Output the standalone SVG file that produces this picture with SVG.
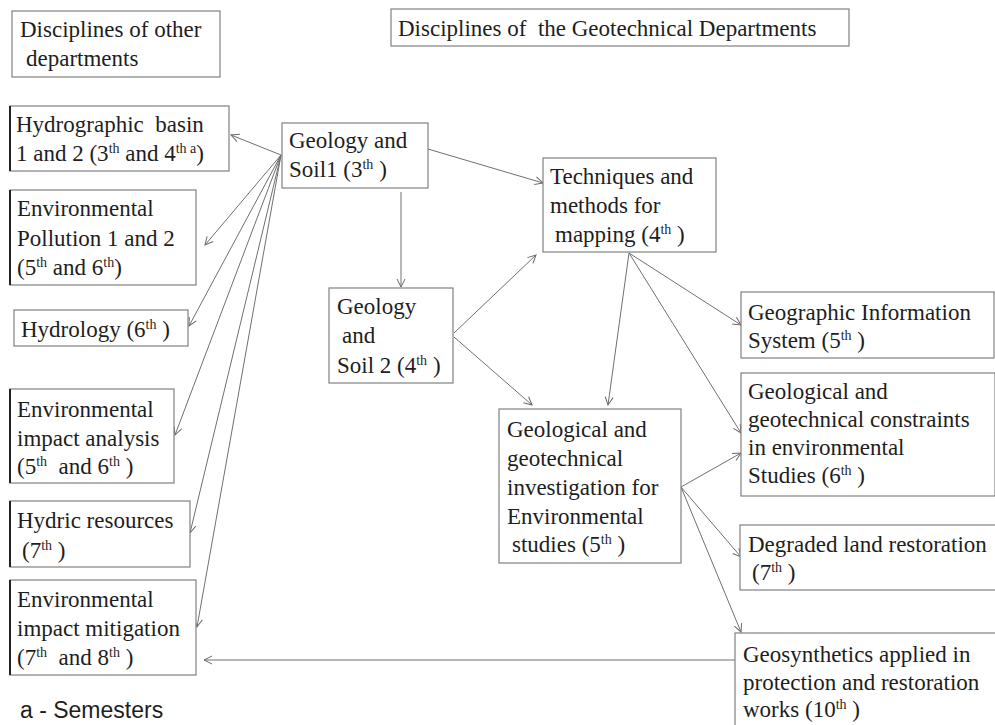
<svg xmlns="http://www.w3.org/2000/svg" width="995" height="725" viewBox="0 0 995 725">
<defs>
<marker id="ah" markerWidth="10" markerHeight="10" refX="9" refY="5" orient="auto" markerUnits="userSpaceOnUse">
<path d="M1,1 L9,5 L1,9" fill="none" stroke="#6a6a6a" stroke-width="1"/>
</marker>
<style>
rect.b{fill:#fff;stroke:#808080;stroke-width:1.2}
text{font-size:23px;fill:#1e1e1e}
tspan.s{font-size:14px}
.c line{stroke:#707070;stroke-width:1;fill:none;marker-end:url(#ah)}
.lb{stroke:#222;stroke-width:2}
</style>
</defs>
<rect width="995" height="725" fill="#fff"/>

<g class="c" id="connectors">
<line x1="281" y1="155" x2="231" y2="135"/>
<line x1="281" y1="155" x2="205" y2="245"/>
<line x1="281" y1="155" x2="189" y2="326"/>
<line x1="281" y1="155" x2="175" y2="435"/>
<line x1="281" y1="155" x2="190" y2="533"/>
<line x1="281" y1="155" x2="197" y2="627"/>
<line x1="428" y1="149" x2="543" y2="183"/>
<line x1="401" y1="192" x2="401" y2="287"/>
<line x1="454" y1="333" x2="536" y2="255"/>
<line x1="454" y1="337" x2="532" y2="405"/>
<line x1="629" y1="253" x2="608" y2="405"/>
<line x1="629" y1="253" x2="741" y2="325"/>
<line x1="629" y1="253" x2="741" y2="433"/>
<line x1="681" y1="487" x2="741" y2="453"/>
<line x1="681" y1="487" x2="741" y2="557"/>
<line x1="681" y1="487" x2="741" y2="632"/>
<line x1="735" y1="660" x2="204" y2="660"/>
</g>

<g font-family="Liberation Serif, DejaVu Serif, serif">
<g id="hdr-other">
<rect class="b" x="12" y="11" width="208" height="66"/>
<text x="20" y="37">Disciplines of other</text>
<text x="26" y="66">departments</text>
</g>

<g id="hdr-geo">
<rect class="b" x="391" y="9" width="458" height="37"/>
<text x="398" y="36" xml:space="preserve">Disciplines of  the Geotechnical Departments</text>
</g>

<g id="hydrographic">
<rect class="b" x="10" y="106" width="219" height="65"/>
<line class="lb" x1="10" y1="106" x2="10" y2="171"/>
<text x="16" y="132" xml:space="preserve">Hydrographic  basin</text>
<text x="16" y="161">1 and 2 (3<tspan class="s" dy="-8">th</tspan><tspan dy="8"> and 4</tspan><tspan class="s" dy="-8">th a</tspan><tspan dy="8">)</tspan></text>
</g>

<g id="geosoil1">
<rect class="b" x="282" y="123" width="146" height="65"/>
<text x="289" y="148">Geology and</text>
<text x="289" y="177">Soil1 (3<tspan class="s" dy="-8">th</tspan><tspan dy="8"> )</tspan></text>
</g>

<g id="envpollution">
<rect class="b" x="10" y="190" width="186" height="95"/>
<line class="lb" x1="10" y1="190" x2="10" y2="285"/>
<text x="17" y="216">Environmental</text>
<text x="17" y="246">Pollution 1 and 2</text>
<text x="17" y="275">(5<tspan class="s" dy="-8">th</tspan><tspan dy="8"> and 6</tspan><tspan class="s" dy="-8">th</tspan><tspan dy="8">)</tspan></text>
</g>

<g id="hydrology">
<rect class="b" x="14" y="310" width="174" height="36"/>
<text x="21" y="337">Hydrology (6<tspan class="s" dy="-8">th</tspan><tspan dy="8"> )</tspan></text>
</g>

<g id="envimpact">
<rect class="b" x="10" y="389" width="164" height="94"/>
<line class="lb" x1="10" y1="389" x2="10" y2="483"/>
<text x="17" y="417">Environmental</text>
<text x="17" y="446">impact analysis</text>
<text x="17" y="474" xml:space="preserve">(5<tspan class="s" dy="-8">th</tspan><tspan dy="8">  and 6</tspan><tspan class="s" dy="-8">th</tspan><tspan dy="8"> )</tspan></text>
</g>

<g id="hydric">
<rect class="b" x="10" y="501" width="180" height="66"/>
<line class="lb" x1="10" y1="501" x2="10" y2="567"/>
<text x="17" y="528">Hydric resources</text>
<text x="22" y="558">(7<tspan class="s" dy="-8">th</tspan><tspan dy="8"> )</tspan></text>
</g>

<g id="envmitigation">
<rect class="b" x="10" y="580" width="186" height="95"/>
<line class="lb" x1="10" y1="580" x2="10" y2="675"/>
<text x="17" y="607">Environmental</text>
<text x="17" y="636">impact mitigation</text>
<text x="17" y="665" xml:space="preserve">(7<tspan class="s" dy="-8">th</tspan><tspan dy="8">  and 8</tspan><tspan class="s" dy="-8">th</tspan><tspan dy="8"> )</tspan></text>
</g>

<g id="techniques">
<rect class="b" x="543" y="158" width="173" height="94"/>
<text x="550" y="184">Techniques and</text>
<text x="550" y="213">methods for</text>
<text x="555" y="242">mapping (4<tspan class="s" dy="-8">th</tspan><tspan dy="8"> )</tspan></text>
</g>

<g id="geosoil2">
<rect class="b" x="329" y="288" width="124" height="95"/>
<text x="337" y="314">Geology</text>
<text x="342" y="343">and</text>
<text x="337" y="373">Soil 2 (4<tspan class="s" dy="-8">th</tspan><tspan dy="8"> )</tspan></text>
</g>

<g id="investigation">
<rect class="b" x="499" y="409" width="182" height="154"/>
<text x="507" y="437">Geological and</text>
<text x="507" y="466">geotechnical</text>
<text x="507" y="495">investigation for</text>
<text x="507" y="524">Environmental</text>
<text x="512" y="552">studies (5<tspan class="s" dy="-8">th</tspan><tspan dy="8"> )</tspan></text>
</g>

<g id="gis">
<rect class="b" x="741" y="292" width="253" height="66"/>
<text x="748" y="320">Geographic Information</text>
<text x="748" y="348">System (5<tspan class="s" dy="-8">th</tspan><tspan dy="8"> )</tspan></text>
</g>

<g id="constraints">
<rect class="b" x="741" y="373" width="254" height="123"/>
<text x="748" y="399">Geological and</text>
<text x="748" y="427">geotechnical constraints</text>
<text x="748" y="455">in environmental</text>
<text x="748" y="483">Studies (6<tspan class="s" dy="-8">th</tspan><tspan dy="8"> )</tspan></text>
</g>

<g id="degraded">
<rect class="b" x="740" y="525" width="260" height="65"/>
<text x="748" y="552">Degraded land restoration</text>
<text x="752" y="580">(7<tspan class="s" dy="-8">th</tspan><tspan dy="8"> )</tspan></text>
</g>

<g id="geosynthetics">
<rect class="b" x="735" y="633" width="265" height="100"/>
<text x="743" y="662">Geosynthetics applied in</text>
<text x="743" y="690">protection and restoration</text>
<text x="743" y="717">works (10<tspan class="s" dy="-8">th</tspan><tspan dy="8"> )</tspan></text>
</g>
</g>

<g id="footnote">
<text x="20" y="718" font-family="Liberation Sans, Arial, sans-serif" font-size="21">a - Semesters</text>
</g>
</svg>
